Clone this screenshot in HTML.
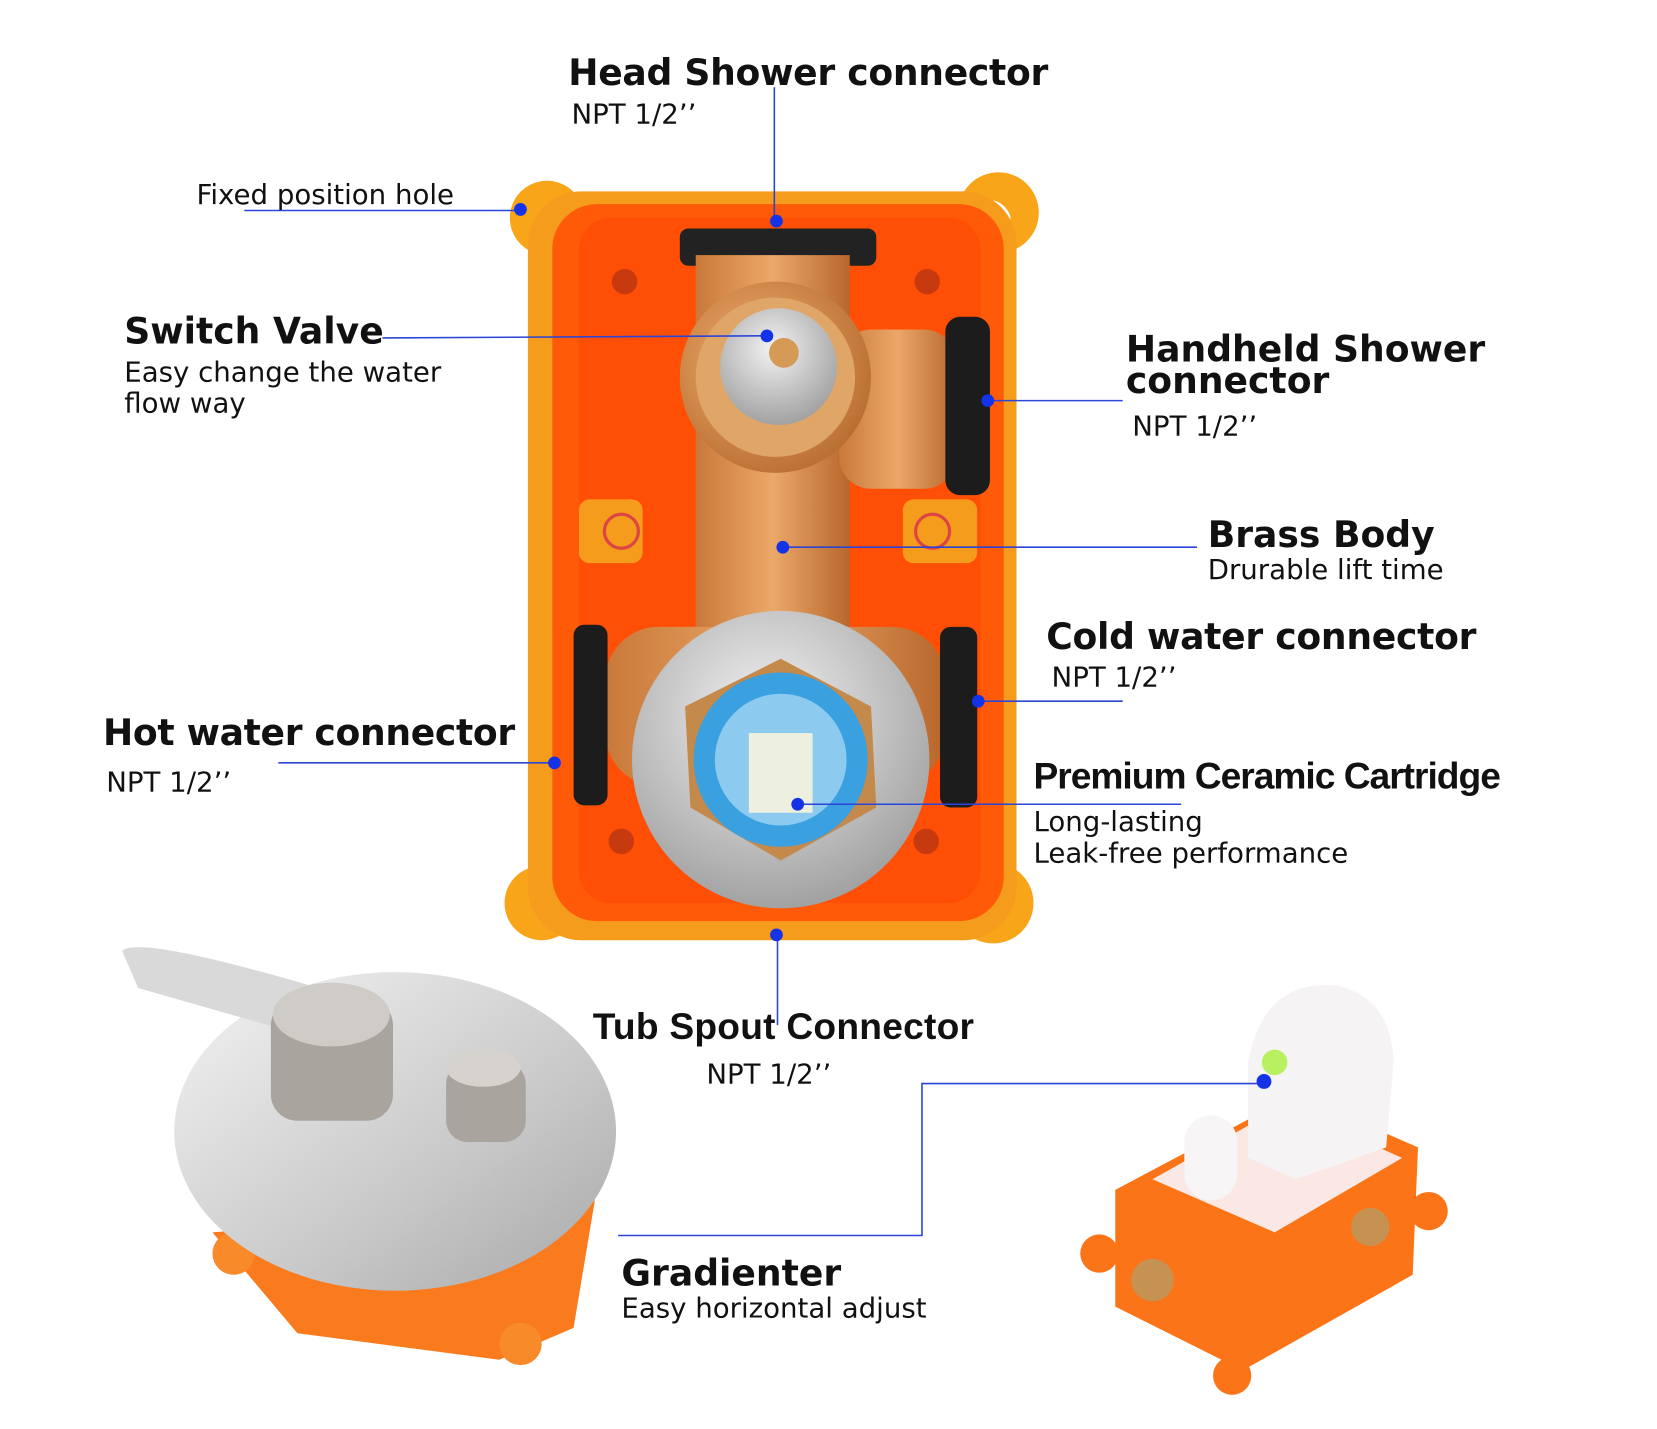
<!DOCTYPE html>
<html><head><meta charset="utf-8"><style>
html,body{margin:0;padding:0;background:#fff;}
svg{display:block}
text{font-family:"DejaVu Sans","Liberation Sans",sans-serif;fill:#111}
.h{font-size:34px;font-weight:600}
.c{font-size:35px;font-weight:bold;font-family:"Liberation Sans Narrow","Liberation Sans",sans-serif}
.s{font-size:26px}
.l{stroke:#2a45d8;stroke-width:1.5;fill:none}
.d{fill:#1432e6}
</style></head><body>
<svg width="1657" height="1429" viewBox="0 0 1560 1345" xmlns="http://www.w3.org/2000/svg">
<defs>
<radialGradient id="br" cx="40%" cy="40%" r="70%"><stop offset="0" stop-color="#f0b070"/><stop offset="1" stop-color="#b5692c"/></radialGradient>
<linearGradient id="pipe" x1="0" x2="1"><stop offset="0" stop-color="#c9793a"/><stop offset=".5" stop-color="#eba868"/><stop offset="1" stop-color="#b8672c"/></linearGradient>
<radialGradient id="sil" cx="45%" cy="35%" r="70%"><stop offset="0" stop-color="#f2f2f2"/><stop offset="1" stop-color="#9c9c9c"/></radialGradient>
<linearGradient id="plate" x1="0" y1="0" x2="1" y2="1"><stop offset="0" stop-color="#f4f4f4"/><stop offset=".6" stop-color="#c9c9c9"/><stop offset="1" stop-color="#a8a8a8"/></linearGradient>
</defs>
<g>
<circle cx="515" cy="205" r="35" fill="#f8a51a"/><circle cx="940" cy="200" r="38" fill="#f8a51a"/>
<circle cx="510" cy="850" r="35" fill="#f8a51a"/><circle cx="935" cy="850" r="38" fill="#f8a51a"/>
<ellipse cx="515" cy="205" rx="8" ry="14" transform="rotate(45 515 205)" fill="#fff"/>
<ellipse cx="940" cy="200" rx="8" ry="14" transform="rotate(-45 940 200)" fill="#fff"/>
<ellipse cx="510" cy="850" rx="8" ry="14" transform="rotate(-45 510 850)" fill="#fff"/>
<ellipse cx="935" cy="850" rx="8" ry="14" transform="rotate(45 935 850)" fill="#fff"/>
<rect x="497" y="180" width="460" height="705" rx="50" fill="#f59c1c"/>
<rect x="520" y="192" width="425" height="675" rx="42" fill="#fe5a08"/>
<rect x="545" y="205" width="378" height="645" rx="30" fill="#ff4f06"/>
<rect x="640" y="215" width="185" height="35" rx="8" fill="#222"/>
<rect x="655" y="240" width="145" height="380" fill="url(#pipe)"/>
<rect x="790" y="310" width="110" height="150" rx="30" fill="url(#pipe)"/>
<rect x="570" y="590" width="320" height="150" rx="50" fill="url(#pipe)"/>
<rect x="890" y="298" width="42" height="168" rx="14" fill="#1c1c1c"/>
<rect x="540" y="588" width="32" height="170" rx="10" fill="#1c1c1c"/>
<rect x="885" y="590" width="35" height="170" rx="10" fill="#1c1c1c"/>
<circle cx="730" cy="355" r="90" fill="url(#br)"/>
<circle cx="730" cy="355" r="75" fill="#e0a668"/>
<circle cx="733" cy="345" r="55" fill="url(#sil)"/>
<circle cx="738" cy="332" r="14" fill="#d59a56"/>
<rect x="545" y="470" width="60" height="60" rx="10" fill="#f59c1c"/><circle cx="585" cy="500" r="16" fill="#f59c1c" stroke="#d44" stroke-width="3"/>
<rect x="850" y="470" width="70" height="60" rx="10" fill="#f59c1c"/><circle cx="878" cy="500" r="16" fill="#f59c1c" stroke="#d44" stroke-width="3"/>
<circle cx="588" cy="265" r="12" fill="#c73a10"/><circle cx="873" cy="265" r="12" fill="#c73a10"/>
<circle cx="585" cy="792" r="12" fill="#c73a10"/><circle cx="872" cy="792" r="12" fill="#c73a10"/>
<circle cx="735" cy="715" r="140" fill="url(#sil)"/>
<polygon points="735,620 820,665 825,760 735,810 650,760 645,665" fill="#c38a4c"/>
<circle cx="735" cy="715" r="82" fill="#3aa0e0"/>
<circle cx="735" cy="715" r="62" fill="#8ccaf0"/>
<rect x="705" y="690" width="60" height="75" fill="#eef0df"/>
</g>
<g>
<path d="M200 1160 L560 1130 L540 1250 L470 1280 L280 1255 Z" fill="#fa7a1e"/>
<circle cx="220" cy="1180" r="20" fill="#f88a2a"/><circle cx="490" cy="1265" r="20" fill="#f88a2a"/>
<ellipse cx="372" cy="1065" rx="208" ry="150" fill="url(#plate)"/>
<path d="M115 895 Q130 880 300 930 L340 960 L330 990 L270 970 L130 930 Z" fill="#d9d9d9"/>
<rect x="255" y="940" width="115" height="115" rx="25" fill="#a9a49e"/>
<ellipse cx="312" cy="955" rx="55" ry="30" fill="#cfcbc6"/>
<rect x="420" y="1000" width="75" height="75" rx="20" fill="#a9a49e"/>
<ellipse cx="455" cy="1005" rx="35" ry="18" fill="#d6d3cf"/>
</g>
<g>
<path d="M1050 1120 L1220 1030 L1335 1080 L1330 1200 L1170 1290 L1050 1230 Z" fill="#fb7418"/>
<path d="M1085 1110 L1210 1040 L1320 1090 L1200 1160 Z" fill="#fbe7e4"/>
<circle cx="1035" cy="1180" r="18" fill="#fb7418"/><circle cx="1345" cy="1140" r="18" fill="#fb7418"/><circle cx="1160" cy="1295" r="18" fill="#fb7418"/>
<path d="M1175 1000 Q1190 920 1260 928 Q1310 940 1312 1000 L1305 1080 L1220 1110 L1175 1090 Z" fill="#f5f3f3"/>
<rect x="1115" y="1050" width="50" height="80" rx="25" fill="#f7f5f5"/>
<circle cx="1200" cy="1000" r="12" fill="#b8f060"/>
<circle cx="1085" cy="1205" r="20" fill="#c69252"/><circle cx="1290" cy="1155" r="18" fill="#c69252"/>
</g>
<line class="l" x1="230" y1="198" x2="490" y2="198"/><circle class="d" cx="490" cy="197" r="6"/>
<line class="l" x1="729" y1="82" x2="729" y2="208"/><circle class="d" cx="731" cy="208" r="6"/>
<line class="l" x1="360" y1="318" x2="722" y2="316"/><circle class="d" cx="722" cy="316" r="6"/>
<line class="l" x1="930" y1="377" x2="1057" y2="377"/><circle class="d" cx="930" cy="377" r="6"/>
<line class="l" x1="737" y1="515" x2="1127" y2="515"/><circle class="d" cx="737" cy="515" r="6"/>
<line class="l" x1="921" y1="660" x2="1057" y2="660"/><circle class="d" cx="921" cy="660" r="6"/>
<line class="l" x1="262" y1="718" x2="522" y2="718"/><circle class="d" cx="522" cy="718" r="6"/>
<line class="l" x1="751" y1="757" x2="1112" y2="757"/><circle class="d" cx="751" cy="757" r="6"/>
<line class="l" x1="732" y1="880" x2="732" y2="965"/><circle class="d" cx="731" cy="880" r="6"/>
<polyline class="l" points="582,1163 868,1163 868,1020 1190,1020"/><circle class="d" cx="1190" cy="1018" r="7"/>
<text class="h" x="535" y="80" textLength="452">Head Shower connector</text>
<text class="s" x="538" y="116">NPT  1/2’’</text>
<text class="s" x="185" y="192">Fixed position hole</text>
<text class="h" x="117" y="323">Switch Valve</text>
<text class="s" x="117" y="359">Easy change the water</text>
<text class="s" x="117" y="388">flow way</text>
<text class="h" x="1060" y="340">Handheld Shower</text>
<text class="h" x="1060" y="370">connector</text>
<text class="s" x="1066" y="410">NPT  1/2’’</text>
<text class="h" x="1137" y="515">Brass Body</text>
<text class="s" x="1137" y="545">Drurable lift time</text>
<text class="h" x="985" y="611" textLength="405">Cold water connector</text>
<text class="s" x="990" y="646">NPT  1/2’’</text>
<text class="h" x="97" y="701" textLength="388">Hot water connector</text>
<text class="s" x="100" y="745">NPT  1/2’’</text>
<text class="c" x="973" y="742" textLength="440">Premium Ceramic Cartridge</text>
<text class="s" x="973" y="782">Long-lasting</text>
<text class="s" x="973" y="812">Leak-free performance</text>
<text class="c" x="558" y="978" textLength="359">Tub Spout Connector</text>
<text class="s" x="665" y="1020">NPT  1/2’’</text>
<text class="h" x="585" y="1210">Gradienter</text>
<text class="s" x="585" y="1240">Easy horizontal adjust</text>
</svg>
</body></html>
